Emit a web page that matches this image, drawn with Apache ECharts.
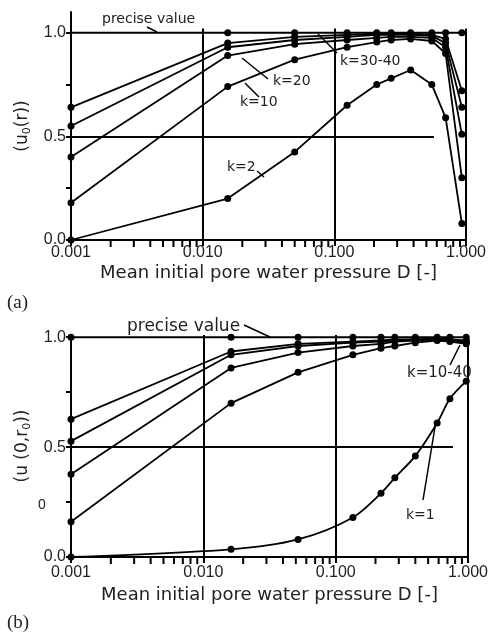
<!DOCTYPE html>
<html><head><meta charset="utf-8">
<script src="https://cdn.jsdelivr.net/npm/echarts@6/dist/echarts.min.js"></script>
<style>html,body{margin:0;padding:0;background:#fff}#c{width:491px;height:633px}</style>
</head><body><div id="c"></div>
<script>
// ---- axis ticks / labels ----
const xTickLabels = [0.001, 0.01, 0.1, 1];
const xMinorMultipliers = [2, 3, 4, 5, 6, 7, 8, 9];
const xDecades = [0.001, 0.01, 0.1];
const yTicks = [0, 0.25, 0.5, 0.75, 1];
const yTickLabels = [0, 0.5, 1];

// ---- panel (a) ----
const dA = [0.001, 0.0155, 0.05, 0.125, 0.21, 0.27, 0.38, 0.55, 0.70, 0.93];
const preciseA = [1, 1, 1, 1, 1, 1, 1, 1, 1, 1];
const k40A = [0.64, 0.95, 0.98, 0.99, 0.995, 0.995, 0.995, 0.99, 0.97, 0.72];
const k30A = [0.55, 0.93, 0.965, 0.98, 0.99, 0.99, 0.99, 0.985, 0.95, 0.64];
const k20A = [0.40, 0.89, 0.945, 0.965, 0.975, 0.98, 0.98, 0.975, 0.93, 0.51];
const k10A = [0.18, 0.74, 0.87, 0.93, 0.955, 0.965, 0.97, 0.96, 0.90, 0.30];
const k2A  = [0.0, 0.20, 0.425, 0.65, 0.75, 0.78, 0.82, 0.75, 0.59, 0.08];

// ---- panel (b) ----
const dB = [0.001, 0.0162, 0.052, 0.135, 0.22, 0.28, 0.40, 0.585, 0.73, 0.97];
const preciseB = [1, 1, 1, 1, 1, 1, 1, 1, 1, 1];
const s1B = [0.627, 0.935, 0.97, 0.98, 0.985, 0.99, 0.99, 0.995, 0.99, 0.985];
const s2B = [0.527, 0.92, 0.96, 0.975, 0.98, 0.985, 0.99, 0.99, 0.99, 0.98];
const s3B = [0.377, 0.86, 0.93, 0.96, 0.97, 0.98, 0.985, 0.99, 0.985, 0.975];
const s4B = [0.16, 0.70, 0.84, 0.92, 0.95, 0.96, 0.975, 0.985, 0.98, 0.97];
const k1B = [0.0, 0.035, 0.08, 0.18, 0.29, 0.36, 0.46, 0.61, 0.72, 0.80];

const FONT = 'Liberation Sans, Arial, sans-serif';
const DJ = 'DejaVu Sans, sans-serif';
const SERIF = 'Liberation Serif, Times New Roman, serif';
const INK = '#222';

const minorTicks = [];
xDecades.forEach(d => xMinorMultipliers.forEach(m => minorTicks.push(m * d)));

function xAxisCfg(gi, margin, nameGap) {
  return {
    type: 'log', logBase: 10, gridIndex: gi, min: 0.001, max: 1,
    axisLine: {show: true, lineStyle: {color: '#000', width: 2}},
    axisTick: {show: true, inside: false, length: 6, lineStyle: {color: '#000', width: 2}},
    axisLabel: {margin, formatter: v => Number(v).toFixed(3), fontFamily: FONT, fontSize: 16, color: INK},
    splitLine: {show: false},
    name: 'Mean initial pore water pressure D [-]', nameLocation: 'middle', nameGap,
    nameTextStyle: {fontFamily: DJ, fontSize: 18, color: INK}
  };
}
function yAxisCfg(gi, max, name, nameGap) {
  return {
    type: 'value', gridIndex: gi, min: 0, max,
    axisLine: {show: true, lineStyle: {color: '#000', width: 2}},
    axisTick: {show: true, length: 5, customValues: yTicks, lineStyle: {color: '#000', width: 2}},
    axisLabel: {customValues: yTickLabels, formatter: v => Number(v).toFixed(1), margin: 5, fontFamily: FONT, fontSize: 16, color: INK},
    splitLine: {show: false},
    name, nameLocation: 'middle', nameRotate: 90, nameGap,
    nameTextStyle: {fontFamily: DJ, fontSize: 17, color: INK, lineHeight: 20,
      rich: {s: {fontFamily: DJ, fontSize: 11, color: INK, lineHeight: 11, verticalAlign: 'bottom'}}}
  };
}
function pairs(xs, ys) { return xs.map((x, i) => [x, ys[i]]); }
function lineSeries(gi, xs, ys, extra) {
  return Object.assign({
    type: 'line', xAxisIndex: gi, yAxisIndex: gi, data: pairs(xs, ys),
    symbol: 'circle', symbolSize: 7, showSymbol: true, clip: false, silent: true,
    lineStyle: {color: '#000', width: 1.8}, itemStyle: {color: '#000'}, z: 3
  }, extra || {});
}
function preciseSeries(gi, xs, ys, hideFirst, gridLines) {
  const data = xs.map((x, i) => ({value: [x, ys[i]], symbolSize: (i === 0 && hideFirst) ? 0 : 7}));
  data.push({value: [1, ys[ys.length - 1]], symbolSize: 0});
  return {
    type: 'line', xAxisIndex: gi, yAxisIndex: gi, data, symbol: 'circle',
    clip: false, silent: true, lineStyle: {color: '#000', width: 2}, itemStyle: {color: '#000'}, z: 3,
    markLine: {silent: true, symbol: ['none', 'none'], label: {show: false},
      lineStyle: {color: '#000', width: 2, type: 'solid'}, data: gridLines}
  };
}
// log minor ticks drawn as small bars hanging below the x axis
function minorTickSeries(gi) {
  return {
    type: 'scatter', xAxisIndex: gi, yAxisIndex: gi, silent: true, clip: false, z: 4,
    data: minorTicks.map(v => [v, 0]),
    symbol: 'rect', symbolSize: [2, 6], symbolOffset: [0, 4],
    itemStyle: {color: '#000', opacity: 1}
  };
}
const seg = (x1, y1, x2, y2) => [{coord: [x1, y1]}, {coord: [x2, y2]}];

const gridLinesA = [seg(0.01, 0, 0.01, 1.02), seg(0.1, 0, 0.1, 1.02), seg(1, 0, 1, 1.02), seg(0.001, 0.5, 0.57, 0.5)];
const gridLinesB = [seg(0.01, 0, 0.01, 1.01), seg(0.1, 0, 0.1, 1.01), seg(1, 0, 1, 1.01), seg(0.001, 0.5, 0.77, 0.5)];

function txt(x, y, text, size, family, align) {
  return {type: 'text', x, y, silent: true,
    style: {text, fontSize: size, fontFamily: family || DJ, fill: INK, align: align || 'left', verticalAlign: 'middle'}};
}
function ptr(x1, y1, x2, y2) {
  return {type: 'line', silent: true, shape: {x1, y1, x2, y2}, style: {stroke: '#000', lineWidth: 1.5}};
}

const option = {
  animation: false,
  backgroundColor: '#fff',
  grid: [
    {left: 71, right: 25, top: 12, bottom: 393},
    {left: 71, right: 23, top: 335, bottom: 76}
  ],
  xAxis: [xAxisCfg(0, 5, 24), xAxisCfg(1, 8, 29)],
  yAxis: [
    yAxisCfg(0, 1.1, '(u{s|0}(r))', 35),
    yAxisCfg(1, 1.01, '(u (0,r{s|0}))', 35)
  ],
  series: [
    preciseSeries(0, dA, preciseA, true, gridLinesA),
    lineSeries(0, dA, k40A), lineSeries(0, dA, k30A), lineSeries(0, dA, k20A),
    lineSeries(0, dA, k10A), lineSeries(0, dA, k2A),
    minorTickSeries(0),
    preciseSeries(1, dB, preciseB, false, gridLinesB),
    lineSeries(1, dB, s1B), lineSeries(1, dB, s2B), lineSeries(1, dB, s3B), lineSeries(1, dB, s4B),
    lineSeries(1, dB, k1B, {smooth: 0.3}),
    minorTickSeries(1)
  ],
  graphic: [
    txt(102, 19, 'precise value', 14), ptr(147, 27, 157, 32),
    txt(340, 61, 'k=30-40', 14), ptr(318, 34, 337, 53),
    txt(273, 81, 'k=20', 14), ptr(242, 58, 268, 79),
    txt(240, 102, 'k=10', 14), ptr(245, 83, 259, 97),
    txt(227, 167, 'k=2', 14), ptr(257, 171, 264, 177),
    txt(7, 303, '(a)', 19, SERIF),
    txt(127, 327, 'precise value', 17), ptr(244, 325, 270, 337),
    txt(407, 373, 'k=10-40', 15), ptr(450, 365, 460, 345),
    txt(406, 515, 'k=1', 14), ptr(423, 500, 436, 421),
    txt(42, 505, '0', 14, FONT, 'center'),
    txt(7, 623, '(b)', 19, SERIF)
  ]
};
const chart = echarts.init(document.getElementById('c'));
chart.setOption(option);
</script></body></html>
